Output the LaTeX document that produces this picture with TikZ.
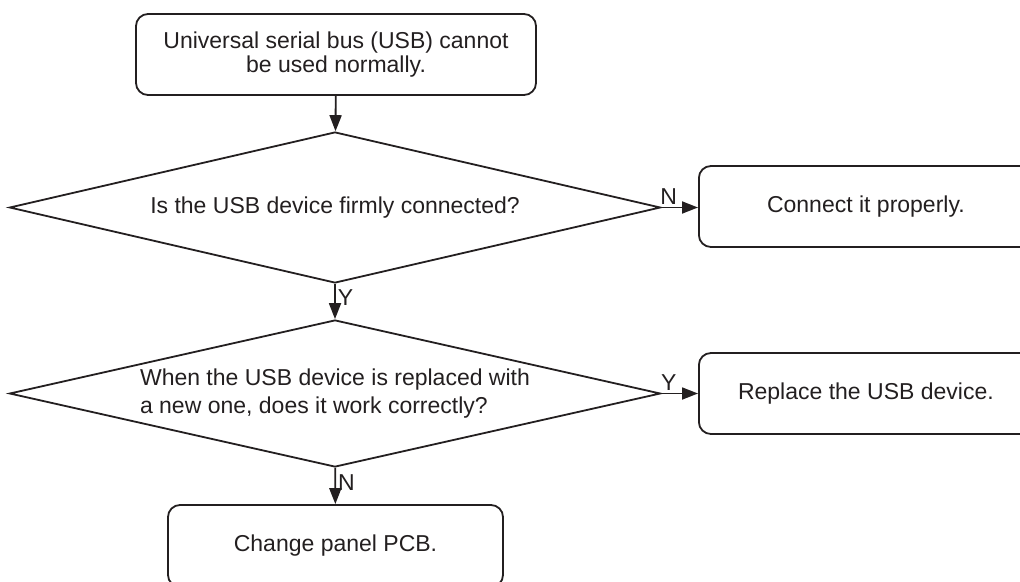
\documentclass[tikz,border=0pt]{standalone}
\usepackage{fontspec}
\setmainfont{Liberation Sans}
\usetikzlibrary{shapes.geometric,arrows.meta}
\definecolor{ink}{RGB}{35,31,32}

\tikzset{
	box/.style={draw=ink, text=ink, line width=1.8pt, rounded corners=12pt, align=center, inner sep=0pt, font=\fontsize{23}{24}\selectfont},
	decision/.style={draw=ink, text=ink, diamond, line width=1.8pt, inner sep=0pt, align=left, font=\fontsize{23}{28}\selectfont},
	flow/.style={draw=ink, -{Triangle[length=16pt,width=12pt]}, line width=1.8pt},
	tag/.style={text=ink, inner sep=2pt, font=\fontsize{23}{24}\selectfont}
}

\begin{document}
\begin{tikzpicture}[x=1pt, y=-1pt]
	\clip (0, 0) rectangle (1020, 581);
	\node[box, minimum width=400pt, minimum height=81pt](start) at (336, 54.5){\raisebox{-4pt}{\shortstack{Universal serial bus (USB) cannot\\be used normally.}}};
	\node[decision, aspect=4.31, minimum width=651pt, minimum height=151pt](q1) at (335, 207.5){Is the USB device firmly connected?};
	\node[decision, aspect=4.43, minimum width=651pt, minimum height=147pt](q2) at (335, 393.5){When the USB device is replaced with\\a new one, does it work correctly?};
	\node[box, anchor=west, minimum width=334pt, minimum height=81pt](fix1) at (698, 206.5){Connect it properly.};
	\node[box, anchor=west, minimum width=334pt, minimum height=81pt](fix2) at (698, 393.5){Replace the USB device.};
	\node[box, minimum width=335pt, minimum height=82pt](pcb) at (335.5, 546){Change panel PCB.};
	\draw[flow] (start) -- (q1);
	\draw[flow] (q1) -- node[tag, pos=0.4, right]{Y} (q2);
	\draw[flow] (q2) -- node[tag, pos=0.4, right]{N} (pcb);
	\draw[flow] (q1.east) -- node[tag, pos=0.2, above]{N} (fix1.west |- q1.east);
	\draw[flow] (q2.east) -- node[tag, pos=0.2, above]{Y} (fix2.west |- q2.east);
\end{tikzpicture}
\end{document}
